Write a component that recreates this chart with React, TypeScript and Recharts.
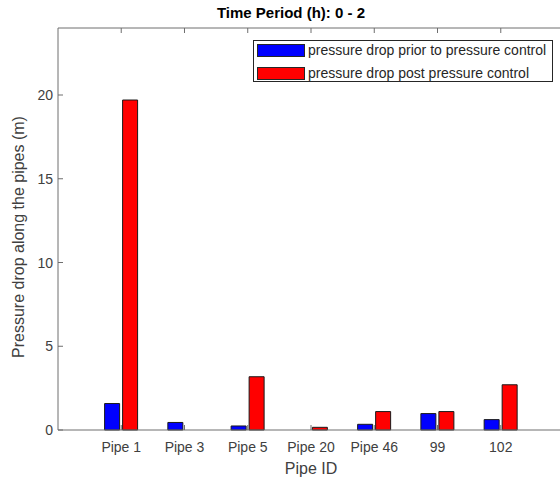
import React from 'react';
import { BarChart, Bar, XAxis, YAxis, Legend } from 'recharts';

const pipes = ['Pipe 1', 'Pipe 3', 'Pipe 5', 'Pipe 20', 'Pipe 46', '99', '102'];
const dropPrior = [1.58, 0.45, 0.24, 0, 0.34, 0.98, 0.62];
const dropPost = [19.7, 0, 3.18, 0.16, 1.1, 1.1, 2.7];
const yTicks = [0, 5, 10, 15, 20];

const data = pipes.map((pipe, i) => ({ pipe, prior: dropPrior[i], post: dropPost[i] }));

const font = '"Liberation Sans", Arial, Helvetica, sans-serif';
const axisColor = '#6e6e6e';
const textColor = '#404040';

const BottomTick = (props: any) => {
  const { x, y, payload } = props;
  return (
    <g>
      <line x1={x} y1={y} x2={x} y2={y - 5} stroke={axisColor} />
      <text x={x} y={y + 22} textAnchor="middle" fill={textColor} fontSize={14} fontFamily={font}>
        {payload.value}
      </text>
    </g>
  );
};

const TopTick = (props: any) => {
  const { x, y } = props;
  return <line x1={x} y1={y} x2={x} y2={y + 5} stroke={axisColor} />;
};

const LeftTick = (props: any) => {
  const { x, y, payload } = props;
  return (
    <g>
      <line x1={x} y1={y} x2={x + 5} y2={y} stroke={axisColor} />
      <text x={x - 5} y={y + 5} textAnchor="end" fill={textColor} fontSize={14} fontFamily={font}>
        {payload.value}
      </text>
    </g>
  );
};

const RightTick = (props: any) => {
  const { x, y } = props;
  return <line x1={x} y1={y} x2={x - 5} y2={y} stroke={axisColor} />;
};

const renderLegend = () => (
  <div
    style={{
      position: 'relative',
      width: 300,
      height: 42,
      border: '1px solid #262626',
      background: '#fff',
      boxSizing: 'border-box',
      fontFamily: font,
      fontSize: 14,
      color: '#262626',
    }}
  >
    {[
      { label: 'pressure drop prior to pressure control', color: '#0000ff', top: 3 },
      { label: 'pressure drop post pressure control', color: '#ff0000', top: 26 },
    ].map((item) => (
      <div key={item.label}>
        <div
          style={{
            position: 'absolute',
            left: 3,
            top: item.top,
            width: 48,
            height: 13,
            background: item.color,
            border: '1px solid #262626',
            boxSizing: 'border-box',
          }}
        />
        <div style={{ position: 'absolute', left: 54, top: item.top - 2, whiteSpace: 'nowrap', lineHeight: '17px' }}>
          {item.label}
        </div>
      </div>
    ))}
  </div>
);

export default function App() {
  return (
    <div style={{ position: 'absolute', left: 0, top: 0, width: 560, height: 483, overflow: 'hidden', background: '#fff' }}>
      <BarChart
        width={560}
        height={483}
        data={data}
        margin={{ top: 0, right: -20, bottom: 0, left: 0 }}
        barSize={15}
        barGap={3}
        style={{ overflow: 'hidden' }}
      >
        <XAxis
          dataKey="pipe"
          interval={0}
          height={53}
          padding={{ left: 31.6, right: 31.6 }}
          tickSize={0}
          tickMargin={0}
          tick={<BottomTick />}
          axisLine={{ stroke: axisColor }}
          label={{
            content: () => (
              <text x={311} y={474} textAnchor="middle" fill={textColor} fontSize={16} fontFamily={font}>
                Pipe ID
              </text>
            ),
          }}
        />
        <XAxis
          xAxisId="top"
          orientation="top"
          dataKey="pipe"
          interval={0}
          height={28}
          padding={{ left: 31.6, right: 31.6 }}
          tickSize={0}
          tickMargin={0}
          tick={<TopTick />}
          axisLine={{ stroke: axisColor }}
          label={{
            content: () => (
              <text x={291} y={18} textAnchor="middle" fill="#000" fontSize={15} fontWeight="bold" fontFamily={font}>
                Time Period (h): 0 - 2
              </text>
            ),
          }}
        />
        <YAxis
          width={58}
          domain={[0, 24]}
          ticks={yTicks}
          interval={0}
          tickSize={0}
          tickMargin={0}
          tick={<LeftTick />}
          axisLine={{ stroke: axisColor }}
          label={{
            content: () => (
              <text
                x={24}
                y={237}
                transform="rotate(-90, 24, 237)"
                textAnchor="middle"
                fill={textColor}
                fontSize={16}
                fontFamily={font}
              >
                Pressure drop along the pipes (m)
              </text>
            ),
          }}
        />
        <YAxis
          yAxisId="right"
          orientation="right"
          width={16}
          domain={[0, 24]}
          ticks={yTicks}
          interval={0}
          tickSize={0}
          tickMargin={0}
          tick={<RightTick />}
          axisLine={{ stroke: axisColor }}
        />
        <Legend
          layout="horizontal"
          verticalAlign="middle"
          align="center"
          content={renderLegend}
          wrapperStyle={{ position: 'absolute', left: 253, top: 40, width: 300, height: 42 }}
        />
        <Bar
          dataKey="prior"
          name="pressure drop prior to pressure control"
          fill="#0000ff"
          stroke="#1a1a1a"
          strokeWidth={1}
          isAnimationActive={false}
        />
        <Bar
          dataKey="post"
          name="pressure drop post pressure control"
          fill="#ff0000"
          stroke="#1a1a1a"
          strokeWidth={1}
          isAnimationActive={false}
        />
      </BarChart>
    </div>
  );
}
